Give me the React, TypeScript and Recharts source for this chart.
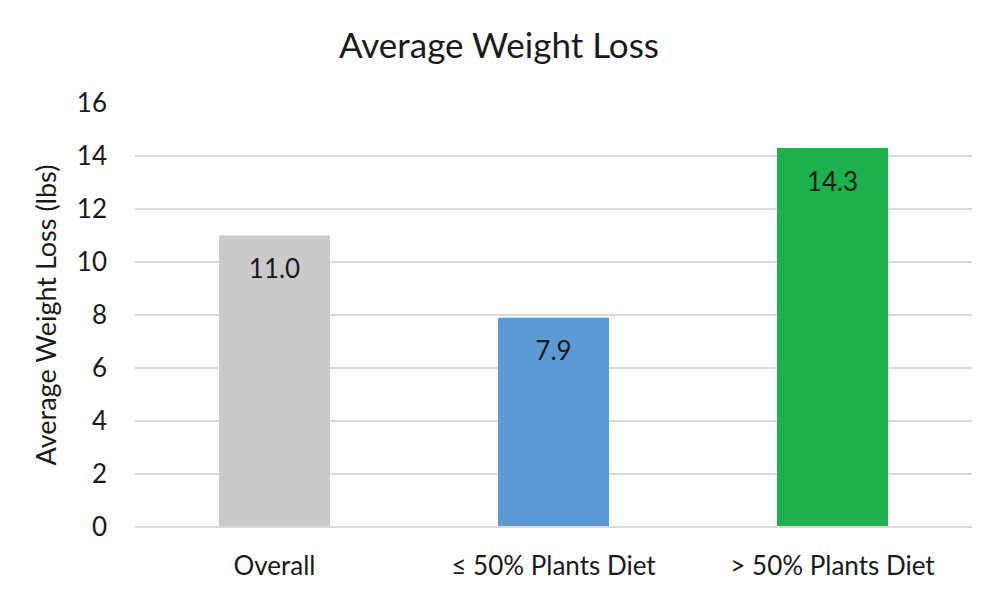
import React from "react";
import { BarChart, Bar, XAxis, YAxis, CartesianGrid, Cell, LabelList, Label } from "recharts";

const categories = ["Overall", "≤ 50% Plants Diet", "> 50% Plants Diet"];
const values = [11.0, 7.9, 14.3];
const colors = ["#CCC9CA", "#5B9BD5", "#1DB14B"];
const yTicks = [0, 2, 4, 6, 8, 10, 12, 14, 16];
const gridValues = [0, 2, 4, 6, 8, 10, 12, 14];
const title = "Average Weight Loss";
const yLabel = "Average Weight Loss (lbs)";

const data = categories.map((c, i) => ({ name: c, value: values[i] }));

if (typeof document !== "undefined") {
  document.body.style.margin = "0";
}

const FONT = "Lato, 'Open Sans', sans-serif";

export default function App() {
  return (
    <div style={{ position: "relative", width: 998, height: 596, background: "#fff", fontFamily: FONT }}>
      <div
        style={{
          position: "absolute",
          top: 24,
          left: 0,
          width: 998,
          textAlign: "center",
          fontSize: 35,
          color: "#1a1a1a",
          lineHeight: "40px",
        }}
      >
        {title}
      </div>
      <BarChart
        width={998}
        height={596}
        data={data}
        margin={{ top: 103, right: 26, bottom: 39, left: 55 }}
      >
        <CartesianGrid vertical={false} stroke="#D9D9D9" strokeWidth={2} horizontalValues={gridValues} />
        <XAxis
          dataKey="name"
          height={30}
          axisLine={{ stroke: "#D9D9D9", strokeWidth: 2 }}
          tickLine={false}
          tickSize={0}
          tickMargin={30}
          tick={{ fontSize: 26, fill: "#1a1a1a", fontFamily: FONT }}
          interval={0}
        />
        <YAxis
          width={80}
          domain={[0, 16]}
          ticks={yTicks}
          axisLine={false}
          tickLine={false}
          tickSize={0}
          tickMargin={28}
          tick={{ fontSize: 26, fill: "#1a1a1a", fontFamily: FONT }}
          interval={0}
        >
          <Label
            content={(props: any) => {
              const vb = props.viewBox || {};
              const cy = (vb.y || 0) + (vb.height || 0) / 2;
              const cx = 45;
              return (
                <text
                  x={cx}
                  y={cy}
                  transform={`rotate(-90 ${cx} ${cy})`}
                  textAnchor="middle"
                  dominantBaseline="central"
                  fontSize={27}
                  fill="#1a1a1a"
                  fontFamily={FONT}
                >
                  {yLabel}
                </text>
              );
            }}
          />
        </YAxis>
        <Bar dataKey="value" barSize={111} isAnimationActive={false}>
          {data.map((d, i) => (
            <Cell key={d.name} fill={colors[i]} />
          ))}
          <LabelList
            dataKey="value"
            position="insideTop"
            offset={24}
            formatter={(v: any) => Number(v).toFixed(1)}
            style={{ fontSize: 26, fill: "#1a1a1a", fontFamily: FONT }}
          />
        </Bar>
      </BarChart>
    </div>
  );
}
